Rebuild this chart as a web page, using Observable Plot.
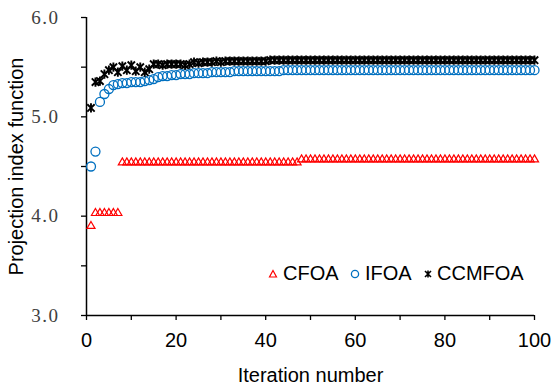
<!DOCTYPE html>
<html>
<head>
<meta charset="utf-8">
<script src="https://cdn.jsdelivr.net/npm/d3@7"></script>
<script src="https://cdn.jsdelivr.net/npm/@observablehq/plot@0.6"></script>
<style>
  html, body { margin: 0; padding: 0; background: #fff; }
  #wrap { position: relative; width: 551px; height: 385px; }
  .legend { position: absolute; top: 262px; left: 266px; font: 20px "Liberation Sans", Arial, sans-serif; color: #000; white-space: nowrap; }
  .legend span { position: absolute; top: 0; }
  .legend svg { position: absolute; top: 7px; }
  svg [aria-label="y-axis tick label"] text { letter-spacing: 1.5px; }
</style>
</head>
<body>
<div id="wrap"></div>
<script>
const seriesNames = ["CFOA", "IFOA", "CCMFOA"];
const iterations = d3.range(1, 101);
const CFOA = [
  3.90,4.03,4.03,4.03,4.03,4.03,4.03,4.54,4.54,4.54,
  4.54,4.54,4.54,4.54,4.54,4.54,4.54,4.54,4.54,4.54,
  4.54,4.54,4.54,4.54,4.54,4.54,4.54,4.54,4.54,4.54,
  4.54,4.54,4.54,4.54,4.54,4.54,4.54,4.54,4.54,4.54,
  4.54,4.54,4.54,4.54,4.54,4.54,4.54,4.57,4.57,4.57,
  4.57,4.57,4.57,4.57,4.57,4.57,4.57,4.57,4.57,4.57,
  4.57,4.57,4.57,4.57,4.57,4.57,4.57,4.57,4.57,4.57,
  4.57,4.57,4.57,4.57,4.57,4.57,4.57,4.57,4.57,4.57,
  4.57,4.57,4.57,4.57,4.57,4.57,4.57,4.57,4.57,4.57,
  4.57,4.57,4.57,4.57,4.57,4.57,4.57,4.57,4.57,4.57
];
const IFOA = [
  4.50,4.65,5.15,5.23,5.28,5.32,5.33,5.34,5.34,5.35,
  5.35,5.35,5.36,5.37,5.38,5.40,5.41,5.41,5.42,5.42,
  5.43,5.43,5.43,5.44,5.44,5.44,5.44,5.45,5.45,5.45,
  5.45,5.45,5.46,5.46,5.46,5.46,5.46,5.46,5.46,5.46,
  5.46,5.46,5.46,5.47,5.47,5.47,5.47,5.47,5.47,5.47,
  5.47,5.47,5.47,5.47,5.47,5.47,5.47,5.47,5.47,5.47,
  5.47,5.47,5.47,5.47,5.47,5.47,5.47,5.47,5.47,5.47,
  5.47,5.47,5.47,5.47,5.47,5.47,5.47,5.47,5.47,5.47,
  5.47,5.47,5.47,5.47,5.47,5.47,5.47,5.47,5.47,5.47,
  5.47,5.47,5.47,5.47,5.47,5.47,5.47,5.47,5.47,5.47
];
const CCMFOA = [
  5.09,5.35,5.36,5.43,5.47,5.50,5.45,5.51,5.47,5.52,
  5.46,5.50,5.45,5.48,5.53,5.53,5.52,5.53,5.53,5.53,
  5.53,5.52,5.53,5.55,5.54,5.55,5.55,5.55,5.56,5.55,
  5.56,5.56,5.56,5.56,5.56,5.56,5.56,5.56,5.56,5.56,
  5.57,5.57,5.57,5.57,5.57,5.57,5.57,5.57,5.57,5.57,
  5.57,5.57,5.57,5.57,5.57,5.57,5.57,5.57,5.57,5.57,
  5.57,5.57,5.57,5.57,5.57,5.57,5.57,5.57,5.57,5.57,
  5.57,5.57,5.57,5.57,5.57,5.57,5.57,5.57,5.57,5.57,
  5.57,5.57,5.57,5.57,5.57,5.57,5.57,5.57,5.57,5.57,
  5.57,5.57,5.57,5.57,5.57,5.57,5.57,5.57,5.57,5.57
];
const xTicks = [0,10,20,30,40,50,60,70,80,90,100];
const xTickLabels = [0,20,40,60,80,100];
const yTicks = [3,3.5,4,4.5,5,5.5,6];
const yTickLabels = [3,4,5,6];
const xTitle = "Iteration number";
const yTitle = "Projection index function";
const colors = {CFOA: "#ff0000", IFOA: "#0070c0", CCMFOA: "#000000"};

// Excel-like star marker: vertical bar plus an X
const star = {
  draw(ctx, size) {
    const r = Math.sqrt(size / Math.PI);
    const d = r * 0.8;
    ctx.moveTo(0, -r); ctx.lineTo(0, r);
    ctx.moveTo(-d, -d); ctx.lineTo(d, d);
    ctx.moveTo(-d, d); ctx.lineTo(d, -d);
  }
};

const rows = (vals) => iterations.map((it, i) => ({it, v: vals[i]}));

const chart = Plot.plot({
  width: 551,
  height: 385,
  marginLeft: 86,
  marginRight: 17,
  marginTop: 17,
  marginBottom: 70,
  style: {fontFamily: "'Liberation Sans', Arial, sans-serif", fontSize: "20px", color: "#000", background: "#fff"},
  x: {domain: [0, 100]},
  y: {domain: [3, 6]},
  marks: [
    Plot.axisX({
      ticks: xTicks, tickSize: 5, tickPadding: 12, strokeWidth: 1.3,
      tickFormat: d => xTickLabels.includes(d) ? String(d) : "",
      fontSize: 20, label: null
    }),
    Plot.axisX({
      ticks: [], label: xTitle, labelAnchor: "center", labelOffset: 66, labelArrow: "none",
      fontSize: 20, dx: 12
    }),
    Plot.axisY({
      ticks: yTicks, tickSize: 5, tickPadding: 22, strokeWidth: 1.3,
      tickFormat: d => yTickLabels.includes(d) ? d.toFixed(1) : "",
      fontFamily: "'Liberation Serif', 'DejaVu Serif', serif", fontSize: 19, fill: "#404040",
      label: null
    }),
    Plot.axisY({
      ticks: [], label: yTitle, labelAnchor: "center", labelOffset: 78, labelArrow: "none",
      fontSize: 20, dy: 4
    }),
    Plot.ruleX([0], {stroke: "#000", strokeWidth: 1.5}),
    Plot.ruleY([3], {stroke: "#000", strokeWidth: 1.5}),
    Plot.dot(rows(CFOA), {x: "it", y: "v", symbol: "triangle", r: 3, stroke: colors.CFOA, fill: "none", strokeWidth: 1.2}),
    Plot.dot(rows(IFOA), {x: "it", y: "v", symbol: "circle", r: 4.5, stroke: colors.IFOA, fill: "none", strokeWidth: 1.3}),
    Plot.dot(rows(CCMFOA), {x: "it", y: "v", symbol: star, r: 4.6, stroke: colors.CCMFOA, fill: "none", strokeWidth: 1.9})
  ]
});

const wrap = document.getElementById("wrap");
wrap.appendChild(chart);

// Legend (HTML overlay)
const legend = document.createElement("div");
legend.className = "legend";
legend.innerHTML = `
  <svg width="10" height="10" style="left:2px"><path d="M5,1.5 L8.5,8 L1.5,8 Z" fill="none" stroke="${colors.CFOA}" stroke-width="1.2"/></svg>
  <span style="left:17px">${seriesNames[0]}</span>
  <svg width="10" height="10" style="left:84px"><circle cx="5" cy="5" r="3.6" fill="none" stroke="${colors.IFOA}" stroke-width="1.3"/></svg>
  <span style="left:99px">${seriesNames[1]}</span>
  <svg width="10" height="10" style="left:157px"><path d="M5,1.5 V8.5 M2,2 L8,8 M2,8 L8,2" fill="none" stroke="${colors.CCMFOA}" stroke-width="1.6"/></svg>
  <span style="left:171px">${seriesNames[2]}</span>`;
wrap.appendChild(legend);
</script>
</body>
</html>
